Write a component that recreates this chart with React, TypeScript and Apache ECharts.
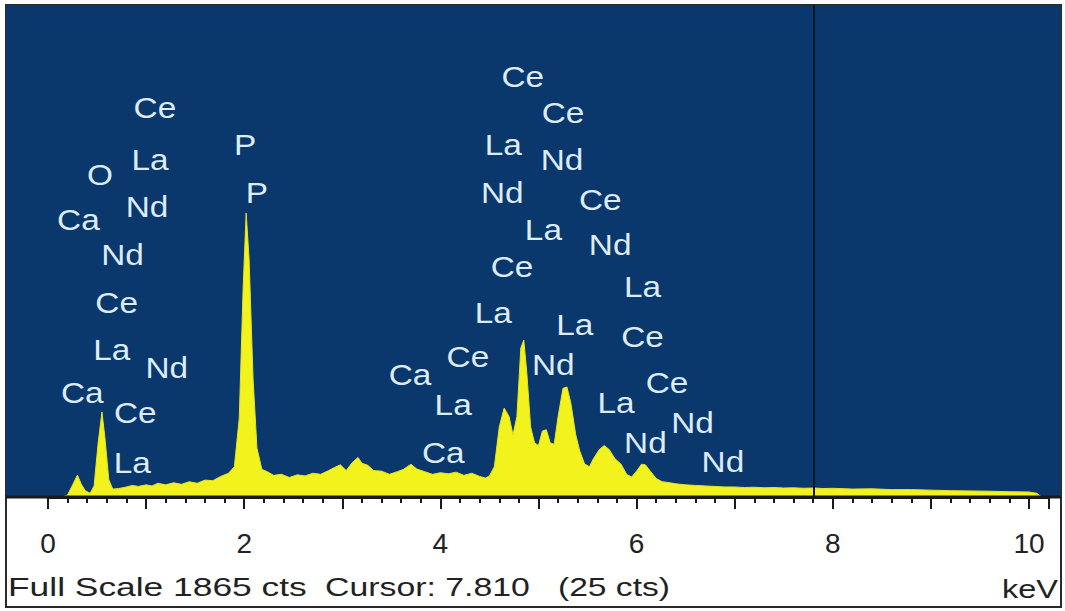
import React, { useEffect, useRef } from "react";
import * as echarts from "echarts";

// Spectrum: energy (keV) and counts
const energy = [
  0.15, 0.2, 0.25, 0.3, 0.34, 0.38, 0.43, 0.47, 0.51, 0.55, 0.58, 0.62, 0.66, 0.72, 0.8, 0.86, 0.92, 1.0,
  1.06, 1.12, 1.2, 1.28, 1.36, 1.44, 1.52, 1.6, 1.68, 1.76, 1.84, 1.9, 1.95, 1.99, 2.02, 2.05, 2.09, 2.13,
  2.18, 2.24, 2.3, 2.38, 2.46, 2.54, 2.62, 2.7, 2.78, 2.86, 2.92, 2.98, 3.04, 3.1, 3.16, 3.2, 3.26, 3.32,
  3.4, 3.48, 3.56, 3.62, 3.7, 3.76, 3.84, 3.92, 4.0, 4.08, 4.16, 4.24, 4.32, 4.4, 4.46, 4.5, 4.55, 4.6,
  4.65, 4.7, 4.74, 4.78, 4.82, 4.85, 4.88, 4.92, 4.96, 5.0, 5.04, 5.08, 5.12, 5.16, 5.2, 5.25, 5.29, 5.33,
  5.38, 5.42, 5.47, 5.52, 5.56, 5.62, 5.67, 5.72, 5.78, 5.84, 5.9, 5.95, 6.0, 6.05, 6.09, 6.14, 6.2, 6.26,
  6.32, 6.4, 6.5, 6.6, 6.7, 6.8, 6.9, 7.0, 7.1, 7.2, 7.3, 7.4, 7.5, 7.6, 7.7, 7.81, 7.9, 8.0, 8.2, 8.4,
  8.6, 8.8, 9.0, 9.2, 9.4, 9.6, 9.8, 10.0, 10.08, 10.13,
];
const counts = [
  0, 8, 45, 83, 48, 24, 14, 42, 200, 322, 225, 65, 30, 32, 38, 44, 40, 46,
  42, 52, 46, 54, 48, 58, 52, 64, 62, 78, 90, 115, 300, 800, 1076, 900, 450, 185,
  105, 95, 82, 86, 74, 84, 80, 90, 86, 100, 112, 122, 100, 130, 150, 128, 120, 100,
  98, 86, 96, 104, 124, 106, 96, 86, 92, 88, 94, 82, 90, 78, 72, 80, 115, 265,
  337, 305, 235, 305, 565, 595, 475, 265, 205, 195, 250, 255, 205, 200, 305, 412, 417, 355,
  235, 175, 125, 115, 145, 180, 195, 180, 145, 125, 85, 76, 98, 124, 122, 98, 70, 58,
  55, 50, 46, 44, 42, 40, 38, 38, 36, 37, 35, 36, 34, 35, 33, 34, 32, 33, 30, 31,
  28, 28, 26, 24, 23, 22, 20, 19, 14, 0,
];

// Element marker labels: text, energy (keV), counts position
const labelTexts = [
  "Ce", "La", "P", "O", "Nd", "P", "Ca", "Nd", "Ce", "La", "Nd", "Ca", "Ce", "La",
  "Ce", "Ce", "La", "Nd", "Nd", "Ce", "La", "Nd", "Ce", "La", "La", "La", "Ce", "Ce",
  "Nd", "Ca", "Ce", "La", "La", "Nd", "Nd", "Ca", "Nd",
];
const labelEnergy = [
  1.09, 1.04, 2.01, 0.53, 1.01, 2.13, 0.31, 0.76, 0.7, 0.65, 1.21, 0.35, 0.89, 0.86,
  4.84, 5.25, 4.64, 5.24, 4.63, 5.63, 5.05, 5.73, 4.73, 6.06, 4.54, 5.37, 6.06, 4.28,
  5.15, 3.69, 6.31, 4.13, 5.79, 6.57, 6.09, 4.03, 6.88,
];
const labelCounts = [
  1474, 1277, 1334, 1220, 1099, 1152, 1050, 917, 735, 557, 489, 394, 318, 129,
  1592, 1455, 1334, 1277, 1152, 1126, 1012, 955, 872, 796, 697, 652, 606, 531,
  500, 462, 432, 349, 356, 280, 205, 167, 133,
];

const fullScale = 1865;
const cursorKeV = 7.81;
const cursorCounts = 25;
const xTickLabels = [0, 2, 4, 6, 8, 10];

const FONT = "'Liberation Sans', Arial, sans-serif";

function measure(text: string, size: number): number {
  const c = document.createElement("canvas").getContext("2d");
  if (!c) return text.length * size * 0.55;
  c.font = `${size}px ${FONT}`;
  return c.measureText(text).width;
}

export default function App() {
  const ref = useRef<HTMLDivElement>(null);
  useEffect(() => {
    if (!ref.current) return;
    const chart = echarts.init(ref.current, null, { renderer: "svg" });
    const blue = "#0b386c";
    chart.setOption({
      animation: false,
      backgroundColor: "#ffffff",
      grid: { left: 48, right: 16.4, top: 5, bottom: 114, containLabel: false },
      xAxis: {
        type: "value",
        min: 0,
        max: 10.2,
        interval: 1,
        axisLine: { show: true, onZero: false, lineStyle: { color: "#1a1a1a", width: 3 } },
        axisTick: { show: true, inside: false, length: 12, lineStyle: { color: "#1a1a1a", width: 2 } },
        minorTick: { show: true, splitNumber: 5, length: 6, lineStyle: { color: "#1a1a1a", width: 2 } },
        splitLine: { show: false },
        axisLabel: {
          margin: 32,
          color: "#222",
          fontSize: 28,
          fontFamily: FONT,
          formatter: (v: number) => {
            const r = Math.round(v);
            return Math.abs(v - r) < 1e-6 && xTickLabels.indexOf(r) >= 0 ? String(r) : "";
          },
        },
      },
      yAxis: { type: "value", min: 0, max: fullScale, show: false, splitLine: { show: false } },
      series: [
        {
          type: "line",
          data: energy.map((e, i) => [e, counts[i]]),
          showSymbol: false,
          symbol: "none",
          lineStyle: { color: "#e6e622", width: 1 },
          areaStyle: { color: "#f2f21c", opacity: 1 },
          z: 3,
          markLine: {
            silent: true,
            symbol: "none",
            label: { show: false },
            lineStyle: { color: "#0a1626", width: 2, type: "solid" },
            data: [{ xAxis: cursorKeV }],
          },
        },
      ],
    });

    const bottomSize = 26;
    const seg = (text: string, x0: number, x1: number, cy: number) => {
      const w = measure(text, bottomSize);
      return {
        type: "text",
        z: 10,
        x: x0,
        y: cy,
        scaleX: (x1 - x0) / w,
        style: { text, fill: "#222", font: `${bottomSize}px ${FONT}`, align: "left", verticalAlign: "middle" },
      };
    };

    const labelEls = labelTexts.map((t, i) => {
      const p = chart.convertToPixel({ gridIndex: 0 }, [labelEnergy[i], labelCounts[i]]) as number[];
      return {
        type: "text",
        z: 20,
        x: p[0],
        y: p[1],
        scaleX: 1.15,
        style: { text: t, fill: "#dcecfb", font: `29px ${FONT}`, align: "center", verticalAlign: "middle" },
      };
    });

    chart.setOption({
      graphic: [
        { type: "rect", z: -100, shape: { x: 6, y: 5, width: 1055, height: 602 }, style: { fill: "#ffffff", stroke: "#2a2a2a", lineWidth: 2 } },
        { type: "rect", z: -99, shape: { x: 6, y: 5, width: 1055, height: 492 }, style: { fill: blue } },
        { type: "line", z: 10, shape: { x1: 6, y1: 497, x2: 1061, y2: 497 }, style: { stroke: "#1a1a1a", lineWidth: 3 } },
        seg(`Full Scale ${fullScale} cts`, 8, 307, 587),
        seg(`Cursor: ${cursorKeV.toFixed(3)}`, 325, 530, 587),
        seg(`(${cursorCounts} cts)`, 558, 670, 587),
        seg("keV", 1002, 1058, 589),
        ...labelEls,
      ],
    });
    return () => chart.dispose();
  }, []);
  return <div ref={ref} style={{ position: "absolute", left: 0, top: 0, width: 1065, height: 611 }} />;
}
